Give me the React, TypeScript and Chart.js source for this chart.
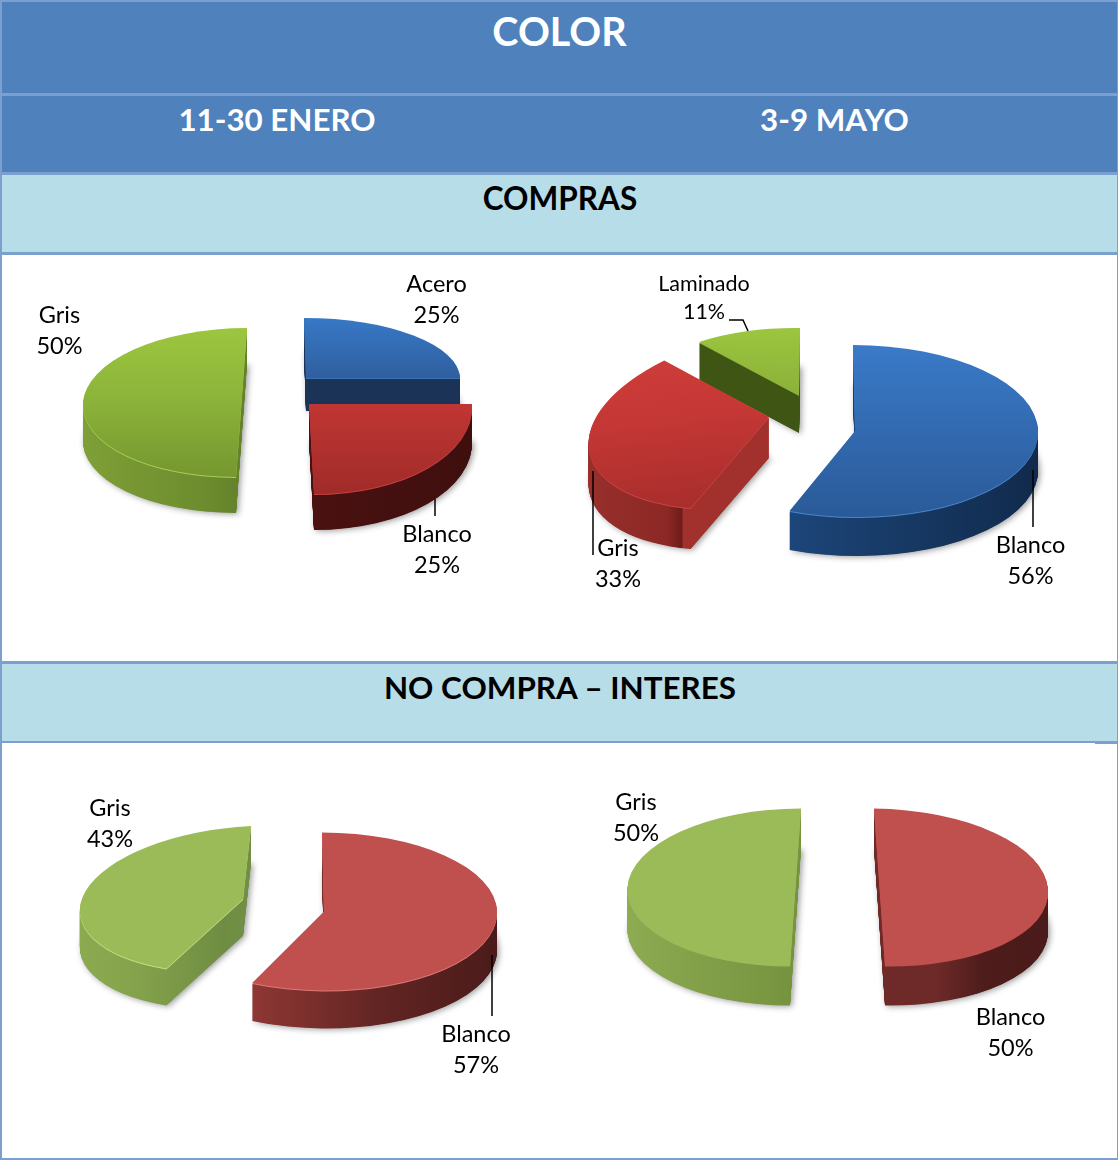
import React, { useEffect, useRef } from "react";
import { Chart, registerables } from "chart.js";

Chart.register(...registerables);

// ---- data ----
const comprasEneroLabels = ["Acero", "Blanco", "Gris"];
const comprasEneroValues = [25, 25, 50];
const comprasMayoLabels = ["Blanco", "Gris", "Laminado"];
const comprasMayoValues = [56, 33, 11];
const interesEneroLabels = ["Blanco", "Gris"];
const interesEneroValues = [57, 43];
const interesMayoLabels = ["Blanco", "Gris"];
const interesMayoValues = [50, 50];

const titleText = "COLOR";
const periodLeft = "11-30 ENERO";
const periodRight = "3-9 MAYO";
const sectionCompras = "COMPRAS";
const sectionInteres = "NO COMPRA – INTERES";

// ---- styles ----
type Stops = [number, string][];
type Paint = { face: Stops; rim: string; wall: Stops };

const glossBlue: Paint = {
  face: [[0, "#3a7ac8"], [1, "#2a5a98"]],
  rim: "#4a86cc",
  wall: [[0, "#235290"], [0.6, "#173a66"], [1, "#112a4c"]],
};
const acero: Paint = {
  face: [[0, "#3878c6"], [0.5, "#2f5f9e"], [1, "#2a5a98"]],
  rim: "#3a70b0",
  wall: [[0, "#1a3357"], [1, "#1a3357"]],
};
const glossRed: Paint = {
  face: [[0, "#d03e3b"], [0.5, "#c03634"], [1, "#a02b29"]],
  rim: "#c84040",
  wall: [[0, "#5c1614"], [0.6, "#471110"], [1, "#3e0f0e"]],
};
const grisCompra: Paint = {
  face: [[0, "#d03e3b"], [0.45, "#c43735"], [1, "#a62d2b"]],
  rim: "#c84544",
  wall: [[0, "#98302c"], [0.25, "#8c2825"], [0.29, "#6e1c1a"], [0.295, "#a2302d"], [1, "#a2302d"]],
};
const glossGreen: Paint = {
  face: [[0, "#9cc63f"], [0.45, "#8db53a"], [1, "#75972f"]],
  rim: "#a8cf55",
  wall: [[0, "#7f9f37"], [0.4, "#6d8c2e"], [0.8, "#4c6420"], [1, "#4c6420"]],
};
const laminado: Paint = {
  face: [[0, "#9cc63f"], [0.45, "#8db33a"], [1, "#74962f"]],
  rim: "#8db33a",
  wall: [[0, "#3f5514"], [1, "#3f5514"]],
};
const softGreen43: Paint = {
  face: [[0, "#9bbb59"], [1, "#9bbb59"]],
  rim: "#c4de84",
  wall: [[0, "#8cab50"], [0.2, "#84a24b"], [0.45, "#6f8d42"], [0.47, "#708f44"], [1, "#708f44"]],
};
const softGreen50: Paint = {
  face: [[0, "#9bbb59"], [1, "#9bbb59"]],
  rim: "#9bbb59",
  wall: [[0, "#8dab51"], [0.5, "#76933f"], [1, "#57692e"]],
};
const softRed57: Paint = {
  face: [[0, "#c0504d"], [1, "#c0504d"]],
  rim: "#dc7a76",
  wall: [[0, "#8d3633"], [0.3, "#8d3633"], [0.65, "#622523"], [1, "#4a1b1a"]],
};
const softRed50: Paint = {
  face: [[0, "#c0504d"], [1, "#c0504d"]],
  rim: "#c0504d",
  wall: [[0, "#6e2a28"], [0.65, "#6e2a28"], [0.8, "#4d1c1b"], [1, "#4a1b1a"]],
};

// ---- layout of the exploded 3D projection (page pixels) ----
type Slice = { c: [number, number]; u: [number, number]; v: [number, number]; depth: number; paint: Paint };
type Label = { i: number; x: number; y: number; size?: number };
type Layout = {
  box: { x: number; y: number; w: number; h: number };
  order: number[];
  slices: Slice[];
  labels: Label[];
  leaders: [number, number][][];
};

const layoutComprasEnero: Layout = {
  box: { x: 0, y: 255, w: 559, h: 406 },
  order: [0, 2, 1],
  slices: [
    { c: [306, 379], u: [154, 0], v: [2, 60], depth: 32, paint: acero },
    { c: [309, 405], u: [163, 0], v: [5, 90], depth: 35, paint: glossRed },
    { c: [241.5, 403.5], u: [158.5, 0], v: [-5.5, 74.5], depth: 35, paint: glossGreen },
  ],
  labels: [
    { i: 0, x: 436.5, y: 284 },
    { i: 1, x: 437, y: 534 },
    { i: 2, x: 59.5, y: 315 },
  ],
  leaders: [[[435, 499], [435, 516]]],
};

const layoutComprasMayo: Layout = {
  box: { x: 559, y: 255, w: 559, h: 406 },
  order: [2, 1, 0],
  slices: [
    { c: [855, 432], u: [183, 0], v: [2, 86], depth: 38, paint: glossBlue },
    { c: [769, 418], u: [180, -20], v: [-13, 90], depth: 40, paint: grisCompra },
    { c: [799, 396], u: [158, 2], v: [-1, 67], depth: 37, paint: laminado },
  ],
  labels: [
    { i: 0, x: 1030.5, y: 545 },
    { i: 1, x: 618, y: 548 },
    { i: 2, x: 704, y: 284, size: 21.5 },
  ],
  leaders: [
    [[1033, 470], [1033, 527]],
    [[593, 471], [593, 555]],
    [[729, 320], [743, 320], [748, 331]],
  ],
};

const layoutInteresEnero: Layout = {
  box: { x: 0, y: 744, w: 559, h: 416 },
  order: [1, 0],
  slices: [
    { c: [324, 912.5], u: [173, 0], v: [2, 79], depth: 37, paint: softRed57 },
    { c: [243, 900], u: [163, -8], v: [-8, 73], depth: 36, paint: softGreen43 },
  ],
  labels: [
    { i: 0, x: 476, y: 1034 },
    { i: 1, x: 110, y: 808 },
  ],
  leaders: [[[492, 955], [492, 1016]]],
};

const layoutInteresMayo: Layout = {
  box: { x: 559, y: 744, w: 559, h: 416 },
  order: [1, 0],
  slices: [
    { c: [879.5, 888], u: [168.5, 2], v: [5.5, 78.5], depth: 39, paint: softRed50 },
    { c: [795.5, 888], u: [168, 0], v: [-5.5, 78.5], depth: 39, paint: softGreen50 },
  ],
  labels: [
    { i: 0, x: 1010.5, y: 1017 },
    { i: 1, x: 636, y: 802 },
  ],
  leaders: [],
};

const FONT = "Lato, 'Open Sans', sans-serif";

function pie3dPlugin(layout: Layout) {
  const grad = (ctx: CanvasRenderingContext2D, x0: number, y0: number, x1: number, y1: number, stops: Stops) => {
    const g = ctx.createLinearGradient(x0, y0, x1, y1);
    stops.forEach(([p, c]) => g.addColorStop(p, c));
    return g;
  };
  return {
    id: "pie3d",
    beforeDatasetDraw(chart: any) {
      const ctx: CanvasRenderingContext2D = chart.ctx;
      const arcs = chart.getDatasetMeta(0).data;
      const drawAt = (arc: any, s: Slice, dy: number, fill: any, shadow: boolean) => {
        const R = arc.outerRadius;
        ctx.save();
        ctx.translate(s.c[0] - layout.box.x, s.c[1] - layout.box.y + dy);
        ctx.transform(s.u[0] / R, s.u[1] / R, s.v[0] / R, s.v[1] / R, 0, 0);
        ctx.translate(-arc.x, -arc.y);
        if (shadow) {
          ctx.shadowColor = "rgba(0,0,0,0.4)";
          ctx.shadowBlur = 6;
          ctx.shadowOffsetX = 2;
          ctx.shadowOffsetY = 1;
        }
        const f = fill(arc, R);
        const original = arc.options;
        arc.options = { ...original, backgroundColor: f, borderWidth: 0, offset: 0 };
        arc.draw(ctx);
        arc.options = original;
        ctx.restore();
      };
      layout.order.forEach((i) => {
        const arc = arcs[i];
        const s = layout.slices[i];
        const wall = (a: any, R: number) => grad(ctx, a.x - R, a.y, a.x + R, a.y, s.paint.wall);
        const face = (a: any, R: number) => grad(ctx, a.x, a.y - R, a.x, a.y + R, s.paint.face);
        for (let d = s.depth; d > 0; d -= 0.5) drawAt(arc, s, d, wall, d === s.depth);
        drawAt(arc, s, 0, () => s.paint.rim, false);
        drawAt(arc, s, -1, face, false);
      });
      return false;
    },
    afterDatasetsDraw(chart: any) {
      const ctx: CanvasRenderingContext2D = chart.ctx;
      const names = chart.data.labels;
      const vals = chart.data.datasets[0].data;
      ctx.save();
      ctx.strokeStyle = "#000";
      ctx.lineWidth = 1.5;
      layout.leaders.forEach((pts) => {
        ctx.beginPath();
        pts.forEach(([x, y], k) => {
          const px = x - layout.box.x;
          const py = y - layout.box.y;
          if (k === 0) ctx.moveTo(px, py);
          else ctx.lineTo(px, py);
        });
        ctx.stroke();
      });
      ctx.fillStyle = "#000";
      ctx.textAlign = "center";
      ctx.textBaseline = "middle";
      layout.labels.forEach((l) => {
        const size = l.size ?? 23.5;
        ctx.font = `${size}px ${FONT}`;
        const gap = size === 23.5 ? 31.5 : 28;
        ctx.fillText(String(names[l.i]), l.x - layout.box.x, l.y - layout.box.y);
        ctx.fillText(`${vals[l.i]}%`, l.x - layout.box.x, l.y - layout.box.y + gap);
      });
      ctx.restore();
    },
  };
}

function Pie({ labels, values, layout }: { labels: string[]; values: number[]; layout: Layout }) {
  const ref = useRef<HTMLCanvasElement>(null);
  useEffect(() => {
    const chart = new Chart(ref.current!, {
      type: "pie",
      data: {
        labels,
        datasets: [{ data: values, borderWidth: 0, backgroundColor: layout.slices.map((s) => s.paint.rim) }],
      },
      options: {
        animation: false,
        responsive: false,
        layout: { padding: 0 },
        plugins: { legend: { display: false }, tooltip: { enabled: false } },
      },
      plugins: [pie3dPlugin(layout)],
    } as any);
    return () => chart.destroy();
  }, []);
  const { x, y, w, h } = layout.box;
  return (
    <canvas
      ref={ref}
      width={w}
      height={h}
      style={{ position: "absolute", left: x, top: y, width: w, height: h, display: "block" }}
    />
  );
}

const LINE = "#7ba0cd";

function Band({ top, height, bg }: { top: number; height: number; bg: string }) {
  return <div style={{ position: "absolute", left: 0, top, width: 1118, height, background: bg }} />;
}
function Rule({ top, height = 3 }: { top: number; height?: number }) {
  return <div style={{ position: "absolute", left: 0, top, width: 1118, height, background: LINE }} />;
}
function Head({ text, cx, cy, color, size }: { text: string; cx: number; cy: number; color: string; size: number }) {
  return (
    <div
      style={{
        position: "absolute",
        left: cx - 300,
        top: cy - 30,
        width: 600,
        height: 60,
        lineHeight: "60px",
        textAlign: "center",
        fontFamily: FONT,
        fontWeight: 700,
        fontSize: size,
        color,
        whiteSpace: "nowrap",
      }}
    >
      {text}
    </div>
  );
}

export default function App() {
  return (
    <div style={{ position: "absolute", left: 0, top: 0, width: 1118, height: 1160, overflow: "hidden", background: "#fff" }}>
      <style>{"html,body{margin:0;padding:0;overflow:hidden;background:#fff}"}</style>
      <Band top={0} height={173} bg="#4f81bd" />
      <Band top={173} height={80} bg="#b7dde8" />
      <Band top={662} height={80} bg="#b7dde8" />
      <Rule top={0} height={2} />
      <Rule top={93} />
      <Rule top={172} />
      <Rule top={252} />
      <Rule top={661} />
      <Rule top={741} height={2} />
      <div style={{ position: "absolute", left: 1095, top: 741, width: 23, height: 3, background: LINE }} />
      <Rule top={1158} height={2} />
      <div style={{ position: "absolute", left: 0, top: 0, width: 2, height: 1160, background: LINE }} />
      <div style={{ position: "absolute", left: 1117, top: 0, width: 1, height: 1160, background: LINE }} />
      <Head text={titleText} cx={559.5} cy={31} color="#fff" size={39.5} />
      <Head text={periodLeft} cx={277} cy={119} color="#fff" size={31.3} />
      <Head text={periodRight} cx={834.5} cy={119} color="#fff" size={31.3} />
      <Head text={sectionCompras} cx={560} cy={198} color="#000" size={31.5} />
      <Head text={sectionInteres} cx={560} cy={687} color="#000" size={31.4} />
      <Pie labels={comprasEneroLabels} values={comprasEneroValues} layout={layoutComprasEnero} />
      <Pie labels={comprasMayoLabels} values={comprasMayoValues} layout={layoutComprasMayo} />
      <Pie labels={interesEneroLabels} values={interesEneroValues} layout={layoutInteresEnero} />
      <Pie labels={interesMayoLabels} values={interesMayoValues} layout={layoutInteresMayo} />
    </div>
  );
}
